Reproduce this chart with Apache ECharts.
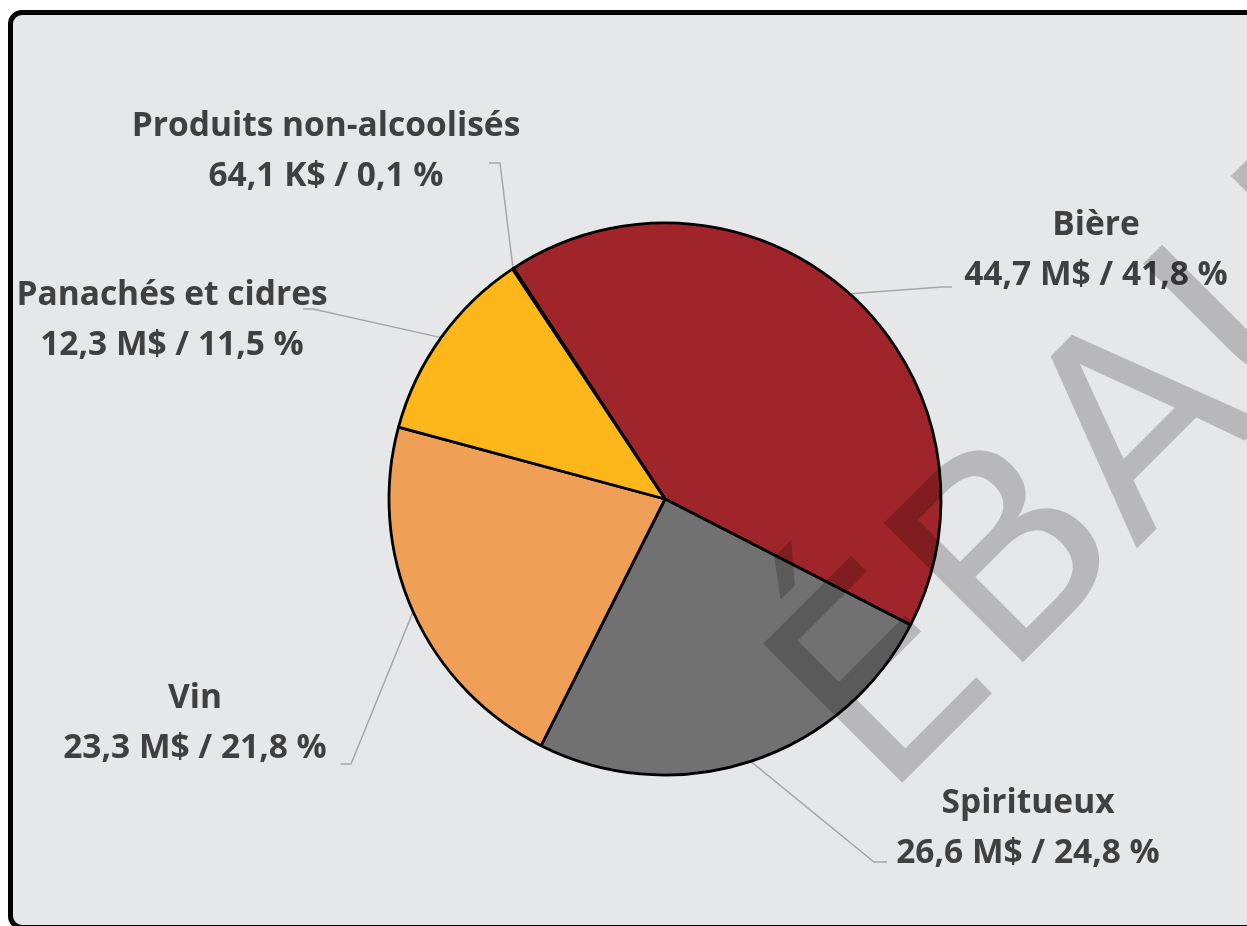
<!DOCTYPE html>
<html>
<head>
<meta charset="utf-8">
<script src="https://cdn.jsdelivr.net/npm/echarts@6/dist/echarts.min.js"></script>
<style>
html,body{margin:0;padding:0;background:#fff;overflow:hidden;width:1247px;height:926px;}
#frame{position:absolute;left:8px;top:10px;width:1300px;height:920px;box-sizing:border-box;border:5px solid #000;border-radius:14px;background:#E6E7E9;}
#chart{position:absolute;left:0;top:0;width:1247px;height:926px;}
</style>
</head>
<body>
<div id="frame"></div>
<div id="chart"></div>
<script>
// ---- data ----
const categories = ['Bière', 'Spiritueux', 'Vin', 'Panachés et cidres', 'Produits non-alcoolisés'];
const valuesMillions = [44.7, 26.6, 23.3, 12.3, 0.0641];
const percentShown = [41.8, 24.8, 21.8, 11.5, 0.1];
const watermarkText = 'ÉBAUCHE';

// ---- styles / layout ----
const sliceColors = ['#A0252A', '#707170', '#F0A056', '#FDB71A', '#5B9BD5'];
// label block centre + label-line attachment (offsets from block centre)
const labelPlacement = [
  { x: 1096, y: 250, endDx: -144, endDy: 37, elbowDx: -10 },
  { x: 1028, y: 828, endDx: -141, endDy: 34, elbowDx: -13 },
  { x: 195,  y: 723, endDx: 146,  endDy: 41, elbowDx: 10 },
  { x: 172,  y: 320, endDx: 131,  endDy: -11, elbowDx: 10 },
  { x: 326,  y: 151, endDx: 163,  endDy: 12, elbowDx: 11 }
];

function frNum(v) { return v.toFixed(1).replace('.', ','); }
function fmtValue(v) { return v >= 1 ? frNum(v) + ' M$' : frNum(v * 1000) + ' K$'; }

const chart = echarts.init(document.getElementById('chart'), null, { renderer: 'canvas' });

const option = {
  animation: false,
  backgroundColor: 'transparent',
  graphic: [{
    type: 'text',
    x: 834, y: 752,
    rotation: Math.PI / 4,
    z: 100,
    silent: true,
    style: {
      text: watermarkText,
      font: '270px "DejaVu Sans"',
      fill: 'rgba(0,0,0,0.2)',
      align: 'left',
      verticalAlign: 'middle'
    }
  }],
  series: [{
    type: 'pie',
    center: [665, 499],
    radius: 276,
    startAngle: 123.3,
    clockwise: true,
    avoidLabelOverlap: false,
    itemStyle: { borderColor: '#000', borderWidth: 2.8 },
    emphasis: { disabled: true },
    label: {
      show: true,
      position: 'outside',
      formatter: function (p) {
        const i = p.dataIndex;
        return categories[i] + '\n' + fmtValue(valuesMillions[i]) + ' / ' + frNum(percentShown[i]) + ' %';
      },
      fontFamily: '"Open Sans", sans-serif',
      fontWeight: 'bold',
      fontSize: 33.5,
      lineHeight: 50,
      color: '#404040',
      align: 'center'
    },
    labelLine: {
      show: true,
      smooth: false,
      lineStyle: { color: '#A6A6A6', width: 1.5 }
    },
    labelLayout: function (params) {
      const lp = labelPlacement[params.dataIndex];
      const anchor = params.labelLinePoints ? params.labelLinePoints[0] : [lp.x, lp.y];
      const end = [lp.x + lp.endDx, lp.y + lp.endDy];
      const elbow = [end[0] + lp.elbowDx, end[1]];
      return {
        x: lp.x,
        y: lp.y,
        align: 'center',
        verticalAlign: 'middle',
        labelLinePoints: [anchor, elbow, end]
      };
    },
    data: categories.map(function (c, i) {
      return { name: c, value: valuesMillions[i], itemStyle: { color: sliceColors[i] } };
    })
  }]
};
chart.setOption(option);
</script>
</body>
</html>
